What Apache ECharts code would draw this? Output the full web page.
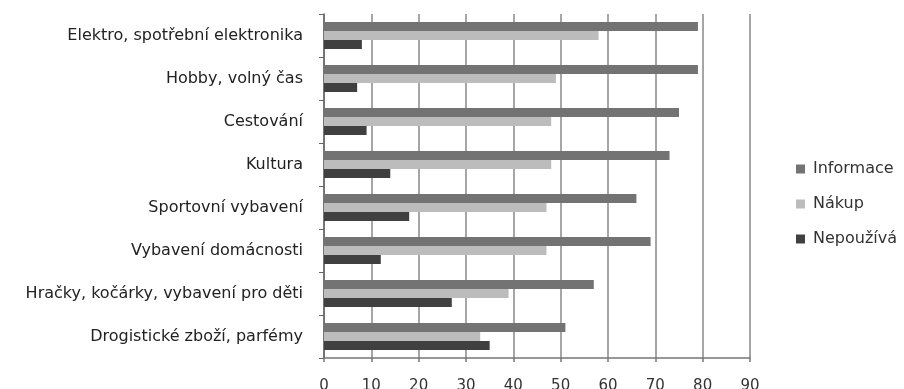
<!DOCTYPE html>
<html>
<head>
<meta charset="utf-8">
<script src="https://cdn.jsdelivr.net/npm/echarts@6/dist/echarts.min.js"></script>
<style>
  html, body { margin: 0; padding: 0; background: #fff; }
  #chart { width: 904px; height: 389px; }
</style>
</head>
<body>
<div id="chart"></div>
<script>
// kategorie (shora dolů)
var categories = [
  "Elektro, spotřební elektronika",
  "Hobby, volný čas",
  "Cestování",
  "Kultura",
  "Sportovní vybavení",
  "Vybavení domácnosti",
  "Hračky, kočárky, vybavení pro děti",
  "Drogistické zboží, parfémy"
];
var informace = [79, 79, 75, 73, 66, 69, 57, 51];
var nakup = [58, 49, 48, 48, 47, 47, 39, 33];
var nepouziva = [8, 7, 9, 14, 18, 12, 27, 35];
var seriesNames = ["Informace", "Nákup", "Nepoužívá"];

var chart = echarts.init(document.getElementById("chart"));
var font = "DejaVu Sans, sans-serif";

var option = {
  animation: false,
  color: ["#737373", "#bcbcbc", "#404040"],
  textStyle: { fontFamily: font },
  grid: {
    left: 324,
    right: 154,
    top: 14,
    bottom: 31,
    containLabel: false,
    outerBoundsMode: "none"
  },
  legend: {
    orient: "vertical",
    left: 791,
    top: 156,
    icon: "rect",
    itemWidth: 9,
    itemHeight: 9,
    itemGap: 19,
    data: seriesNames,
    textStyle: { color: "#333", fontSize: 16, fontFamily: font, padding: [0, 0, 0, 3] }
  },
  xAxis: {
    type: "value",
    min: 0,
    max: 90,
    interval: 10,
    axisLine: { show: true, lineStyle: { color: "#777", width: 1.5 } },
    axisTick: { show: true, length: 4, lineStyle: { color: "#777", width: 1.5 } },
    splitLine: { show: true, lineStyle: { color: "#888", width: 1.5 } },
    axisLabel: { color: "#333", fontSize: 15, margin: 21, fontFamily: font }
  },
  yAxis: {
    type: "category",
    inverse: true,
    data: categories,
    axisLine: { show: true, lineStyle: { color: "#666", width: 1.5 } },
    axisTick: { show: true, length: 5, lineStyle: { color: "#666" } },
    axisLabel: { color: "#222", fontSize: 16, margin: 21, fontFamily: font }
  },
  series: [
    { name: seriesNames[0], type: "bar", data: informace, barWidth: 9, barGap: "0%" },
    { name: seriesNames[1], type: "bar", data: nakup, barWidth: 9, barGap: "0%" },
    { name: seriesNames[2], type: "bar", data: nepouziva, barWidth: 9, barGap: "0%" }
  ]
};
chart.setOption(option);
window.onresize = function () {
  chart.resize();
};
</script>
</body>
</html>
